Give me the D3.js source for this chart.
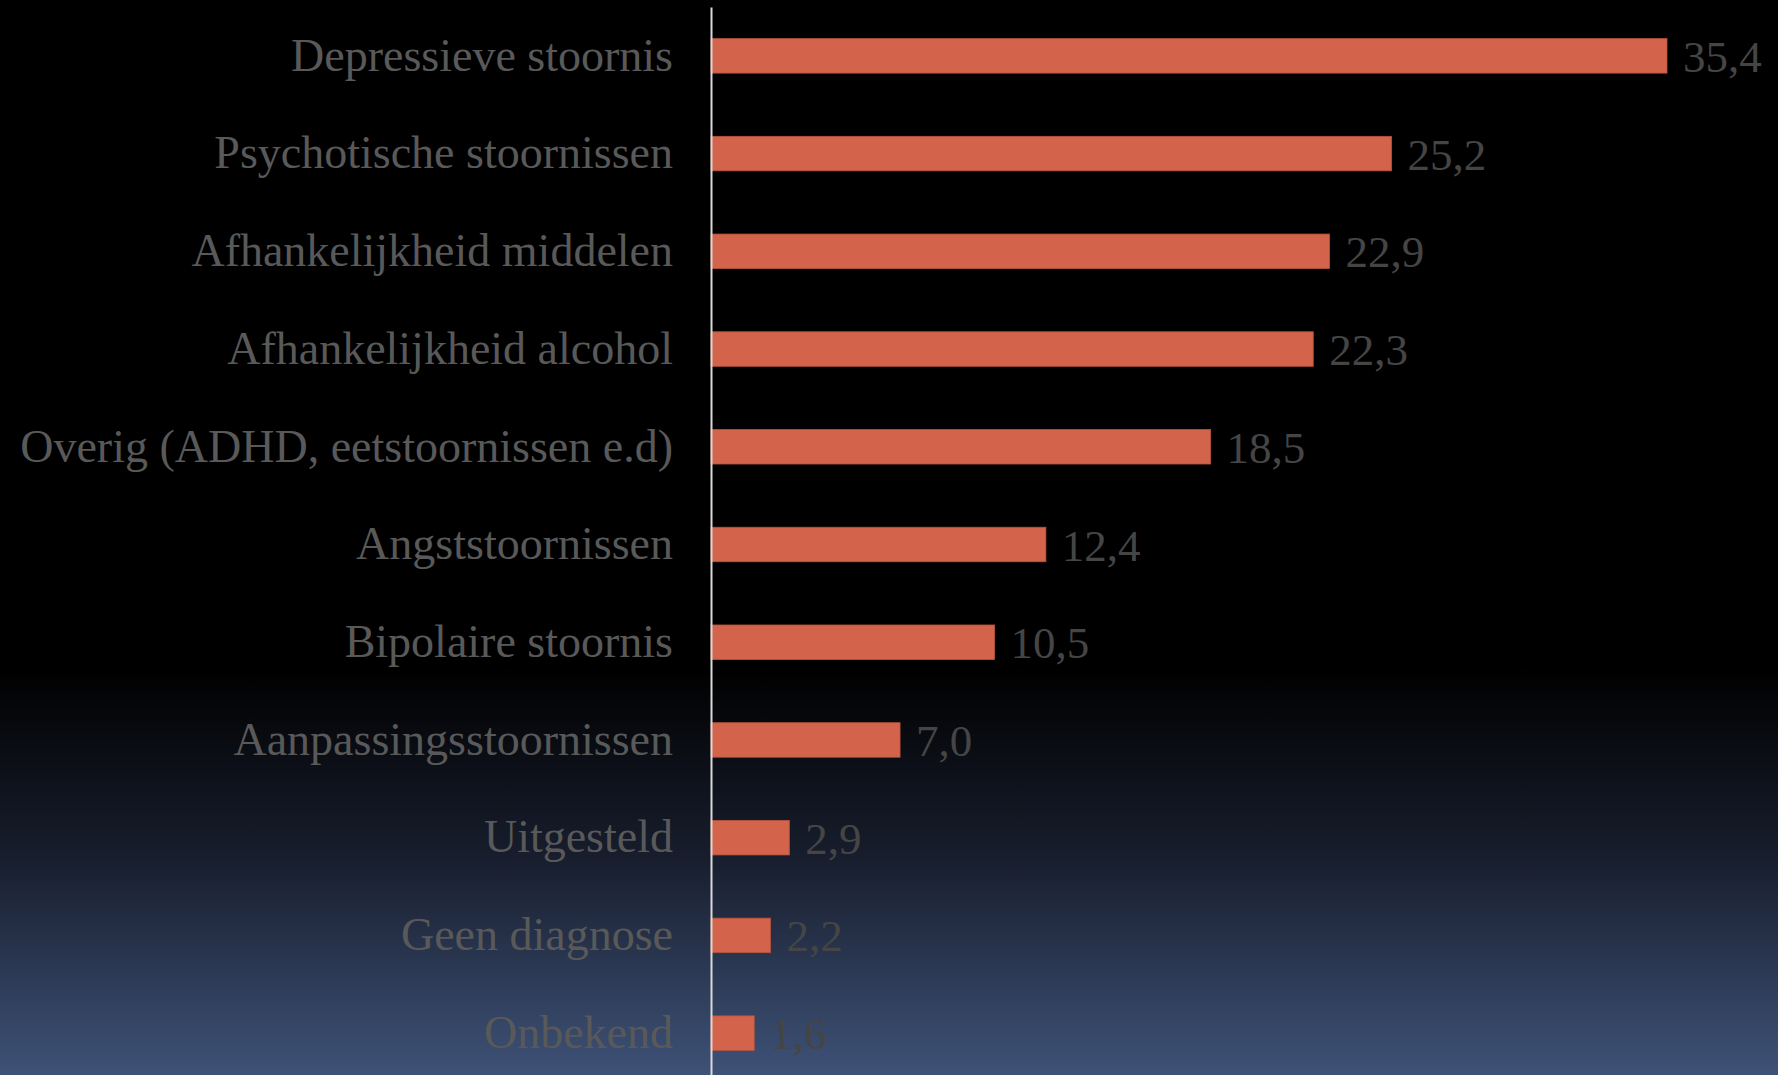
<!DOCTYPE html>
<html>
<head>
<meta charset="utf-8">
<script src="https://cdn.jsdelivr.net/npm/d3@7/dist/d3.min.js"></script>
<style>
  html, body { margin: 0; padding: 0; background: #000; }
  svg { display: block; }
</style>
</head>
<body>
<svg id="chart" width="1778" height="1075"></svg>
<script>
// Diagnoses (percentage of patients), top to bottom
const categories = [
  "Depressieve stoornis",
  "Psychotische stoornissen",
  "Afhankelijkheid middelen",
  "Afhankelijkheid alcohol",
  "Overig (ADHD, eetstoornissen e.d)",
  "Angststoornissen",
  "Bipolaire stoornis",
  "Aanpassingsstoornissen",
  "Uitgesteld",
  "Geen diagnose",
  "Onbekend"
];
const values = [35.4, 25.2, 22.9, 22.3, 18.5, 12.4, 10.5, 7.0, 2.9, 2.2, 1.6];
const valueLabels = ["35,4", "25,2", "22,9", "22,3", "18,5", "12,4", "10,5", "7,0", "2,9", "2,2", "1,6"];

const W = 1778, H = 1075;
const svg = d3.select("#chart");

// Background: black fading into slate blue near the bottom
const defs = svg.append("defs");
const grad = defs.append("linearGradient")
  .attr("id", "bg").attr("x1", 0).attr("y1", 0).attr("x2", 0).attr("y2", 1);
grad.append("stop").attr("offset", "0").attr("stop-color", "#000000");
grad.append("stop").attr("offset", "0.62").attr("stop-color", "#000000");
grad.append("stop").attr("offset", "0.8").attr("stop-color", "#181e2e");
grad.append("stop").attr("offset", "1").attr("stop-color", "#3e5277");
svg.append("rect").attr("width", W).attr("height", H).attr("fill", "url(#bg)");

const axisX = 711;
const pad = 0.647;
const y = d3.scaleBand()
  .domain(categories)
  .range([7, 1082])
  .paddingInner(pad)
  .paddingOuter(pad / 2);

const x = d3.scaleLinear()
  .domain([0, 35.4])
  .range([axisX, 1667]);

const font = "'Liberation Serif', 'Times New Roman', serif";

// Bars
svg.append("g").selectAll("rect")
  .data(categories)
  .join("rect")
  .attr("x", x(0))
  .attr("y", d => y(d))
  .attr("width", (d, i) => x(values[i]) - x(0))
  .attr("height", y.bandwidth())
  .attr("fill", "#d3644b")
  .attr("stroke", "#b8543e")
  .attr("stroke-width", 0.8);

// Value labels
svg.append("g").selectAll("text")
  .data(categories)
  .join("text")
  .attr("x", (d, i) => x(values[i]) + 16)
  .attr("y", d => y(d) + y.bandwidth() / 2 + 16)
  .attr("font-family", font)
  .attr("font-size", 45)
  .attr("fill", "#454545")
  .text((d, i) => valueLabels[i]);

// Category axis
const axis = svg.append("g")
  .attr("transform", `translate(${axisX},0)`)
  .call(d3.axisLeft(y).tickSize(0).tickPadding(38));
axis.select(".domain")
  .attr("stroke", "#d9d9d9")
  .attr("stroke-width", 2);
axis.selectAll("text")
  .attr("font-family", font)
  .attr("font-size", 46)
  .attr("fill", "#595959")
  .attr("dy", "0.32em");
</script>
</body>
</html>
